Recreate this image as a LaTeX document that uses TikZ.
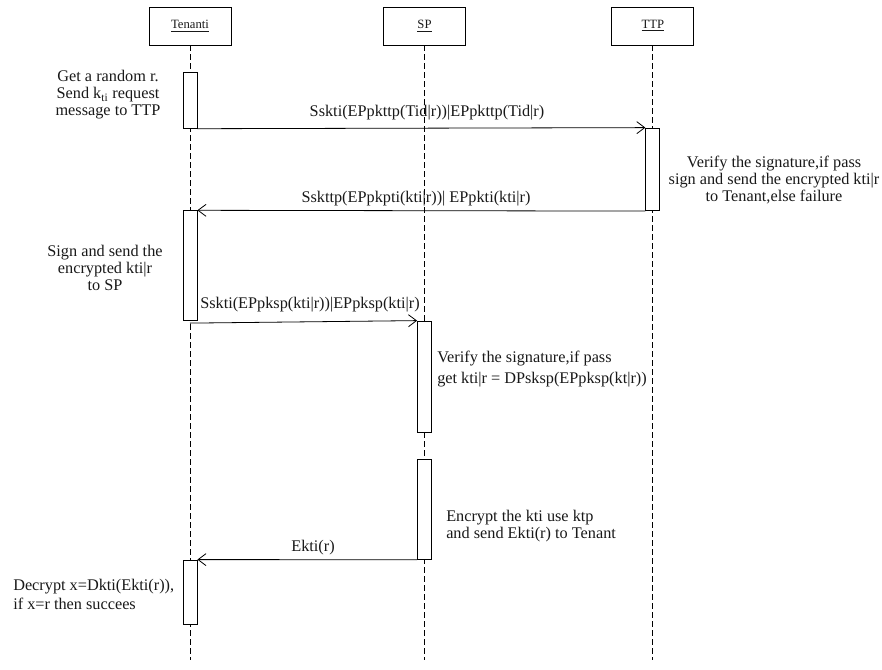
\documentclass[tikz,border=0pt]{standalone}
\usepackage{fontspec}
\setmainfont{Liberation Serif}
\usetikzlibrary{arrows.meta}
\begin{document}
\begin{tikzpicture}[x=0.75pt,y=-0.75pt,
  every node/.style={font=\fontsize{12.2}{12.75}\selectfont, inner sep=0pt, text=black!90},
  head/.style={draw, fill=white, line width=0.6pt, minimum width=61.5pt, minimum height=28.5pt, font=\fontsize{9.5}{10}\selectfont},
  life/.style={dash pattern=on 4.5pt off 2.25pt, line width=0.6pt},
  act/.style={draw, fill=white, line width=0.6pt, minimum width=10.5pt},
  msg/.style={line width=0.6pt, -{Straight Barb[length=6pt,width=9pt]}},
  notec/.style={align=center},
  notel/.style={align=left, anchor=west},
  lbl/.style={}
]
\useasboundingbox (0,0) rectangle (882,669);
% headers
\node[head] (hT) at (190,26) {\underline{Tenanti}};
\node[head] (hS) at (424.5,26) {\underline{SP}};
\node[head] (hP) at (652.8,26) {\underline{TTP}};
\coordinate (eT) at (190,660);
\coordinate (eS) at (424.5,660);
\coordinate (eP) at (652.8,660);
\draw[life] (hT.south) -- (eT);
\draw[life] (hS.south) -- (eS);
\draw[life] (hP.south) -- (eP);
% activations
\node[act, minimum height=41.7pt] (t1) at (190,100.5) {};
\node[act, minimum height=62pt] (p1) at (652.8,169.35) {};
\node[act, minimum height=82.5pt] (t2) at (190,265.7) {};
\node[act, minimum height=83.25pt] (s1) at (424.5,376.5) {};
\node[act, minimum height=75pt] (s2) at (424.5,509.3) {};
\node[act, minimum height=48pt] (t3) at (190,592) {};
% messages
\draw[msg] (t1.south east) -- (p1.north west);
\draw[msg] (p1.south west) -- (t2.north east);
\draw[msg] ([yshift=-1.5pt]t2.south) -- (s1.north west);
\draw[msg] (s2.south west) -- (t3.north east);
% labels
\node[lbl] (l1) at (427,113) {Sskti(EPpkttp(Tid|r))|EPpkttp(Tid|r)};
\node[lbl] (l2) at (416,199) {Sskttp(EPpkpti(kti|r))| EPpkti(kti|r)};
\node[lbl, anchor=west] (l3) at (200,305) {Sskti(EPpksp(kti|r))|EPpksp(kti|r)};
\node[lbl] (l4) at (313,548) {Ekti(r)};
% notes
\node[notec] (n1) at (108,95) {Get a random r.\\Send k\textsubscript{ti} request\\message to TTP};
\node[notec] (n2) at (774,180) {Verify the signature,if pass\\sign and send the encrypted kti|r\\to Tenant,else failure};
\node[notec] (n3) at (105,268) {Sign and send the\\encrypted kti|r\\to SP};
\node[notel, font=\fontsize{12.2}{15.75}\selectfont] (n4) at (437,369.5) {Verify the signature,if pass\\get kti|r = DPsksp(EPpksp(kt|r))};
\node[notel] (n5) at (446,526.5) {Encrypt the kti use ktp\\and send Ekti(r) to Tenant};
\node[notel, font=\fontsize{12.2}{14.25}\selectfont] (n6) at (13,594.5) {Decrypt x=Dkti(Ekti(r)),\\if x=r then succees};
\end{tikzpicture}
\end{document}
